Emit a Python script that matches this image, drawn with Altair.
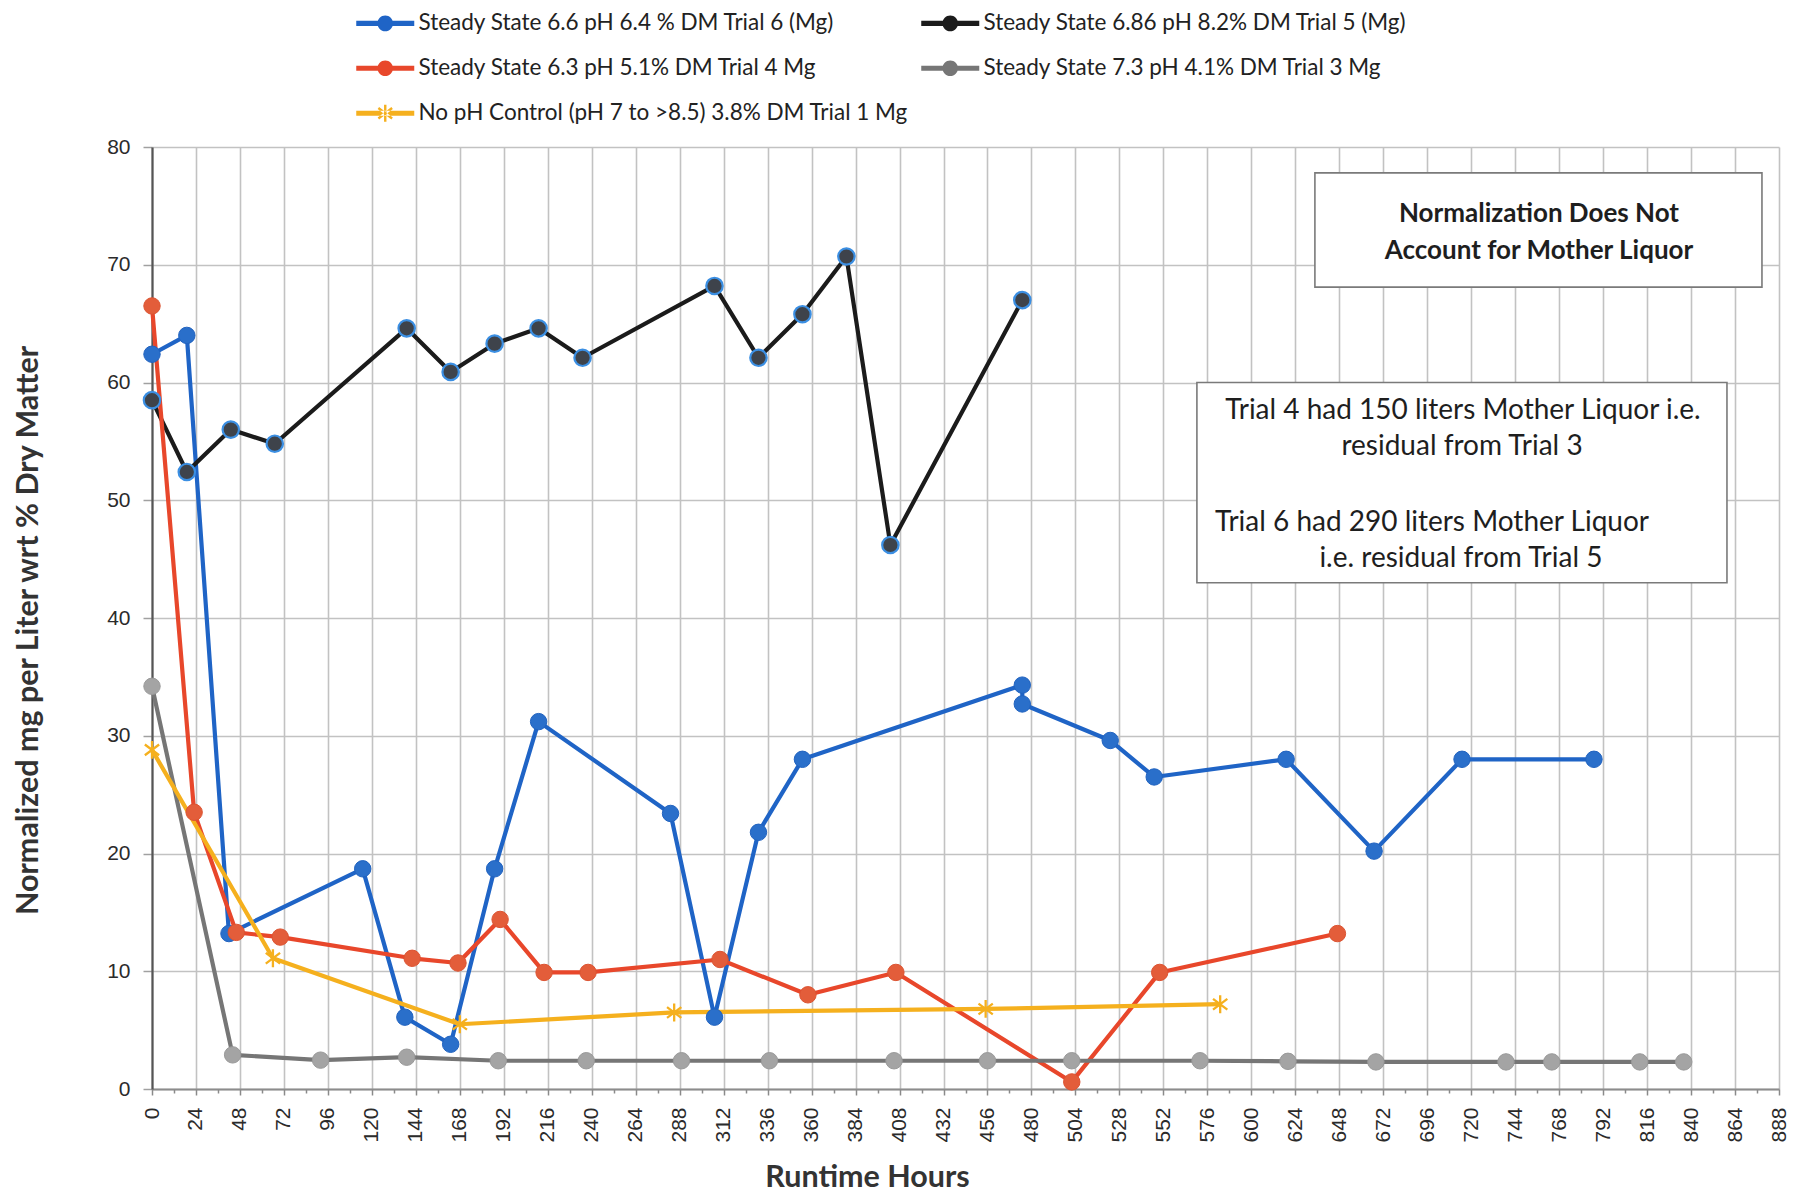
import math
import altair as alt
import pandas as pd

# ---------------- data ----------------
SERIES = [
    "Steady State 6.6 pH 6.4 % DM Trial 6 (Mg)",
    "Steady State 6.86 pH 8.2% DM Trial 5 (Mg)",
    "Steady State 6.3 pH 5.1% DM Trial 4 Mg",
    "Steady State 7.3 pH 4.1% DM Trial 3 Mg",
    "No pH Control (pH 7 to  >8.5) 3.8% DM Trial 1 Mg",
]

t6_hours = [0, 19, 42, 115, 138, 163, 187, 211, 283, 307, 331, 355, 475, 475, 523, 547, 619, 667, 715, 787]
t6_vals = [62.4, 64.0, 13.2, 18.7, 6.1, 3.8, 18.7, 31.2, 23.4, 6.1, 21.8, 28.0, 34.3, 32.7, 29.6, 26.5, 28.0, 20.2, 28.0, 28.0]

t5_hours = [0, 19, 43, 67, 139, 163, 187, 211, 235, 307, 331, 355, 379, 403, 475]
t5_vals = [58.5, 52.4, 56.0, 54.8, 64.6, 60.9, 63.3, 64.6, 62.1, 68.2, 62.1, 65.8, 70.7, 46.2, 67.0]

t4_hours = [0, 23, 46, 70, 142, 167, 190, 214, 238, 310, 358, 406, 502, 550, 647]
t4_vals = [66.5, 23.5, 13.3, 12.9, 11.1, 10.7, 14.4, 9.9, 9.9, 11.0, 8.0, 9.9, 0.6, 9.9, 13.2]

t3_hours = [0, 44, 92, 139, 189, 237, 289, 337, 405, 456, 502, 572, 620, 668, 739, 764, 812, 836]
t3_vals = [34.2, 2.9, 2.45, 2.7, 2.4, 2.4, 2.4, 2.4, 2.4, 2.4, 2.4, 2.4, 2.35, 2.3, 2.3, 2.3, 2.3, 2.3]

t1_hours = [0, 66, 168, 285, 455, 583]
t1_vals = [28.8, 11.1, 5.5, 6.5, 6.8, 7.2]

x_ticks = list(range(0, 889, 12))
y_ticks = list(range(0, 81, 10))

note1_lines = ["Normalization Does Not", "Account for Mother Liquor"]
note2_lines = [
    "Trial 4 had 150 liters Mother Liquor i.e.",
    "residual from Trial 3",
    "Trial 6 had 290 liters Mother Liquor",
    "i.e. residual from Trial 5",
]

# ---------------- build table ----------------
rows = []
for name, hrs, vals in zip(SERIES, [t6_hours, t5_hours, t4_hours, t3_hours, t1_hours],
                           [t6_vals, t5_vals, t4_vals, t3_vals, t1_vals]):
    for i, (h, v) in enumerate(zip(hrs, vals)):
        rows.append({"series": name, "hours": h, "value": v, "idx": i})
df = pd.DataFrame(rows)

# ---------------- styles ----------------
LINE_COLORS = ["#1f64c6", "#1b1b1b", "#e8472b", "#767676", "#f5b01e"]
POINT_FILL = ["#2a6fca", "#3e434b", "#e35d3a", "#a4a4a4", "#f5b01e"]
POINT_STROKE = ["#2163c0", "#3b8fe3", "#dc5432", "#9a9a9a", "#f5b01e"]


def bar(x0, x1, hw):
    return f"M{x0},{-hw}L{x1},{-hw}L{x1},{hw}L{x0},{hw}Z"


def circ(cx, r):
    return f"M{cx + r},0A{r},{r},0,1,1,{cx - r},0A{r},{r},0,1,1,{cx + r},0Z"


def arm(cx, ang, r, w):
    dx, dy = math.cos(ang), math.sin(ang)
    nx, ny = -dy, dx
    pts = [(cx + r * dx + w * nx, r * dy + w * ny), (cx + r * dx - w * nx, r * dy - w * ny),
           (cx - r * dx - w * nx, -r * dy - w * ny), (cx - r * dx + w * nx, -r * dy + w * ny)]
    return "M" + "L".join(f"{a:.3f},{b:.3f}" for a, b in pts) + "Z"


LEG_LINE = bar(-2, 27, 1.3)
leg_circle = LEG_LINE + circ(12.5, 3.9)
leg_star = LEG_LINE + "".join(arm(12.5, a, 4.3, 0.6) for a in (math.pi / 2, math.radians(37), math.radians(-37)))
LEG_SHAPES = [leg_circle, leg_circle, leg_circle, leg_circle, leg_star]

STAR = "M0,-1L0,1M-0.8,-0.6L0.8,0.6M-0.8,0.6L0.8,-0.6"

x_scale = alt.Scale(domain=[0, 888], nice=False, zero=False)
y_scale = alt.Scale(domain=[0, 80], nice=False, zero=True)

major_x = "datum.value % 24 == 0"
x_axis = alt.Axis(
    values=x_ticks,
    labelExpr=f"{major_x} ? datum.label : ''",
    labelAngle=-90, labelFont="Liberation Sans", labelFontSize=21, labelColor="#2b2b2b",
    labelPadding=12, labelOverlap=False, labelFlush=False,
    tickSize=alt.condition(major_x, alt.value(6), alt.value(4)),
    tickColor="#8a8a8a", tickWidth=1.5,
    grid=True, gridColor="#c2c2c2", gridWidth=1.6,
    gridOpacity=alt.condition(major_x, alt.value(1), alt.value(0)),
    domainColor="#8c8c8c", domainWidth=2,
    title="Runtime Hours", titleFont="Lato", titleFontSize=30.5, titleFontWeight="bold",
    titleColor="#333333", titleX=715, titleY=88, titleBaseline="middle", titleAlign="center",
)
y_axis = alt.Axis(
    values=y_ticks, labelFont="Liberation Sans", labelFontSize=21, labelColor="#2b2b2b",
    labelPadding=13, tickSize=9, tickColor="#a0a0a0", tickWidth=1.5,
    grid=True, gridColor="#c2c2c2", gridWidth=1.6,
    domainColor="#555555", domainWidth=2.2,
    title="Normalized mg per Liter wrt % Dry Matter", titleFont="Lato", titleFontSize=30.5,
    titleFontWeight="bold", titleColor="#333333", titleAngle=270,
    titleX=-124, titleY=483, titleBaseline="middle", titleAlign="center",
)

X = alt.X("hours:Q", scale=x_scale, axis=x_axis)
Y = alt.Y("value:Q", scale=y_scale, axis=y_axis)

color_scale = alt.Scale(domain=SERIES, range=LINE_COLORS)

legend = alt.Legend(
    title=None, orient="none", direction="horizontal", legendX=197, legendY=-135, columns=2,
    columnPadding=-10, rowPadding=22, padding=0,
    labelFont="Lato", labelFontSize=22.5, labelColor="#222222", labelLimit=800,
    labelOffset=47, symbolSize=16, symbolStrokeWidth=0, symbolOpacity=1,
)

legend_layer = alt.Chart(df).transform_filter("datum.hours < 0").mark_point(
    filled=True, opacity=1, size=16, strokeWidth=0
).encode(
    x=X, y=Y,
    color=alt.Color("series:N", scale=color_scale, legend=legend),
    shape=alt.Shape("series:N", scale=alt.Scale(domain=SERIES, range=LEG_SHAPES), legend=legend),
)

lines = alt.Chart(df).mark_line(strokeWidth=4.2, strokeJoin="round").encode(
    x=X, y=Y,
    color=alt.Color("series:N", scale=color_scale),
    order="idx:Q",
)

point_layers = []
for i, name in enumerate(SERIES):
    base = alt.Chart(df).transform_filter(alt.datum.series == name)
    if i == 4:
        mk = base.mark_point(shape=STAR, filled=False, stroke=POINT_STROKE[i], strokeWidth=2.3,
                             size=320, opacity=1)
    else:
        mk = base.mark_point(shape="circle", filled=True, fill=POINT_FILL[i], stroke=POINT_STROKE[i],
                             strokeWidth=2.2 if i == 1 else 1, size=270, opacity=1)
    point_layers.append(mk.encode(x=X, y=Y))

# annotation boxes (data coordinates)
box_df = pd.DataFrame({"hours": [634.7, 570.3], "h2": [878.7, 859.6],
                       "value": [77.8, 60.0], "v2": [68.1, 43.0]})
boxes = alt.Chart(box_df).mark_rect(fill="white", stroke="#7a7a7a", strokeWidth=1.6).encode(
    x=X, x2="h2:Q", y=Y, y2="v2:Q")

note1_df = pd.DataFrame({"hours": [757.0, 757.0], "value": [74.35, 71.15], "text": note1_lines})
note1 = alt.Chart(note1_df).mark_text(font="Lato", fontSize=26, fontWeight="bold", color="#1e1e1e",
                                      align="center", baseline="middle").encode(x=X, y=Y, text="text:N")

note2_df = pd.DataFrame({"hours": [715.5, 715.0, 698.6, 714.4], "value": [57.55, 54.5, 48.1, 45.0],
                         "text": note2_lines})
note2 = alt.Chart(note2_df).mark_text(font="Lato", fontSize=28, color="#1e1e1e",
                                      align="center", baseline="middle").encode(x=X, y=Y, text="text:N")

chart = alt.layer(legend_layer, lines, *point_layers, boxes, note1, note2).properties(
    width=1627, height=942,
    padding={"left": 144, "top": 139, "right": 9, "bottom": 103},
    autosize=alt.AutoSizeParams(type="none"),
).configure_view(stroke=None)

chart.save("out.html", embed_options={"renderer": "svg", "actions": False})
